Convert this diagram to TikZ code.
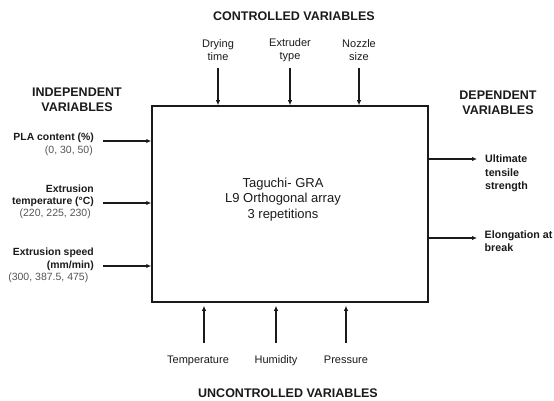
\documentclass[tikz,border=0pt]{standalone}
\usepackage{fontspec}
\setmainfont{Liberation Sans}
\usetikzlibrary{arrows.meta}
\definecolor{valgray}{HTML}{555555}
\definecolor{linec}{HTML}{1A1A1A}
\begin{document}
\begin{tikzpicture}[x=1pt,y=-1pt,
  arr/.style={-{Latex[length=5pt,width=4.5pt]}, line width=1.1pt, draw=linec},
  head/.style={font=\fontsize{12.5}{15}\selectfont\bfseries, align=center, text=linec},
  lab/.style={font=\fontsize{11}{13.5}\selectfont, align=center, text=linec},
  blab/.style={font=\fontsize{10.4}{12.5}\selectfont\bfseries, text=linec},
  rlab/.style={font=\fontsize{10.7}{13.5}\selectfont\bfseries, text=linec, anchor=west, align=left},
  val/.style={font=\fontsize{10.5}{12}\selectfont, text=valgray},
  inner sep=0pt]
\useasboundingbox (0,0) rectangle (554,401);
% main box
\node[draw=linec, line width=1.5pt, minimum width=276pt, minimum height=196pt] (box) at (290,204) {};
\node[font=\fontsize{13}{15.5}\selectfont, align=center, text=linec] (core) at (283,199.5) {Taguchi- GRA\\L9 Orthogonal array\\3 repetitions};
% controlled
\node[head] (ctrl) at (294,16) {CONTROLLED VARIABLES};
\node[lab] (dry) at (218,50) {Drying\\time};
\node[lab] (ext) at (290,50) {Extruder\\type};
\node[lab] (noz) at (359,50) {Nozzle\\size};
\coordinate (t1) at (218,68);
\coordinate (t2) at (290,68);
\coordinate (t3) at (359,68);
\draw[arr] (t1) -- (t1 |- box.north);
\draw[arr] (t2) -- (t2 |- box.north);
\draw[arr] (t3) -- (t3 |- box.north);
% independent
\node[head] (indep) at (77,100) {INDEPENDENT\\VARIABLES};
\node[blab, anchor=east] (pla) at (94,138) {PLA content (\%)};
\node[val, anchor=east] (plav) at (93,150.5) {(0, 30, 50)};
\node[blab, anchor=east, align=right] (temp) at (94,196) {Extrusion\\temperature (°C)};
\node[val, anchor=east] (tempv) at (91,213.5) {(220, 225, 230)};
\node[blab, anchor=east, align=right] (spd) at (94,259.5) {Extrusion speed\\(mm/min)};
\node[val, anchor=east] (spdv) at (88.5,278) {(300, 387.5, 475)};
\coordinate (l1) at (103,141);
\coordinate (l2) at (103,203);
\coordinate (l3) at (103,266);
\draw[arr] (l1) -- (l1 -| box.west);
\draw[arr] (l2) -- (l2 -| box.west);
\draw[arr] (l3) -- (l3 -| box.west);
% dependent
\node[head] (dep) at (498,102.5) {DEPENDENT\\VARIABLES};
\coordinate (r1) at (477,159);
\coordinate (r2) at (477,238);
\draw[arr] (r1 -| box.east) -- (r1);
\draw[arr] (r2 -| box.east) -- (r2);
\node[rlab] (uts) at (485,173.5) {Ultimate\\tensile\\strength};
\node[rlab] (elo) at (484.5,241) {Elongation at\\break};
% uncontrolled
\coordinate (b1) at (204,343);
\coordinate (b2) at (276,343);
\coordinate (b3) at (346,343);
\draw[arr, shorten >=3pt] (b1) -- (b1 |- box.south);
\draw[arr, shorten >=3pt] (b2) -- (b2 |- box.south);
\draw[arr, shorten >=3pt] (b3) -- (b3 |- box.south);
\node[lab] (tmp) at (198,361) {Temperature};
\node[lab] (hum) at (276,361) {Humidity};
\node[lab] (pre) at (346,360) {Pressure};
\node[head] (unc) at (288,393) {UNCONTROLLED VARIABLES};
\end{tikzpicture}
\end{document}
